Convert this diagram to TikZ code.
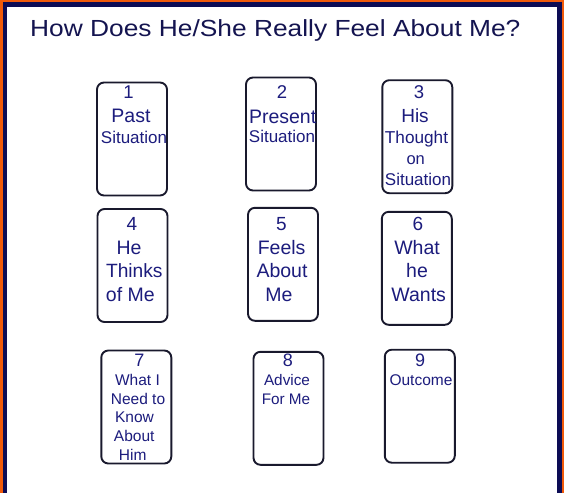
\documentclass[tikz,border=0pt]{standalone}
\usepackage{fontspec}
\setmainfont{Liberation Sans}
\newfontfamily\titlefont[FakeStretch=1.13]{Liberation Sans}
\definecolor{framec}{RGB}{240,90,10}
\definecolor{navyc}{RGB}{12,12,85}
\definecolor{titlec}{RGB}{20,20,80}
\definecolor{textc}{RGB}{28,28,125}
\definecolor{linec}{RGB}{25,25,45}
\newcommand{\fs}[1]{\fontsize{#1}{#1}\selectfont}
\tikzset{
  cardbox/.style={draw=linec, line width=1.9pt, rounded corners=7pt, inner sep=0pt,
    minimum width=70pt, minimum height=113pt},
  lbl/.style={text=textc, anchor=base, inner sep=0pt},
}
\begin{document}
\begin{tikzpicture}[x=1pt,y=-1pt]
\useasboundingbox (0,0) rectangle (564,493);
% frame
\fill[framec] (0,0) rectangle (564,493);
\fill[navyc] (2.6,2.3) rectangle (561.6,493);
\fill[white] (7.3,7) rectangle (556.8,493);
% title
\node[anchor=base west, inner sep=0pt, text=titlec, font=\titlefont\fs{23.3}] (title) at (30,36) {How Does He/She Really Feel About Me?};
% cards
\node[cardbox] (c1) at (132,139) {};
\node[cardbox] (c2) at (281,134) {};
\node[cardbox] (c3) at (417.3,136.7) {};
\node[cardbox] (c4) at (132.5,265.5) {};
\node[cardbox] (c5) at (283,264.3) {};
\node[cardbox] (c6) at (416.8,268.3) {};
\node[cardbox] (c7) at (136.3,407) {};
\node[cardbox] (c8) at (288.5,408.3) {};
\node[cardbox] (c9) at (419.8,406.2) {};
% card 1
\node[lbl, font=\fs{18.5}] (n1) at (128.5,98) {1};
\node[lbl, font=\fs{19.5}] (t1a) at (131,122.3) {Past};
\node[lbl, font=\fs{17}] (t1b) at (134,143.3) {Situation};
% card 2
\node[lbl, font=\fs{18.5}] (n2) at (282,98) {2};
\node[lbl, font=\fs{19.5}] (t2a) at (282.6,123) {Present};
\node[lbl, font=\fs{17}] (t2b) at (282,142.5) {Situation};
% card 3
\node[lbl, font=\fs{18.5}] (n3) at (419,98.3) {3};
\node[lbl, font=\fs{19}] (t3a) at (415,122.3) {His};
\node[lbl, font=\fs{17.2}] (t3b) at (416.5,143.3) {Thought};
\node[lbl, font=\fs{16.5}] (t3c) at (415.7,164) {on};
\node[lbl, font=\fs{17}] (t3d) at (418,185) {Situation};
% card 4
\node[lbl, font=\fs{19}] (n4) at (132,230) {4};
\node[lbl, font=\fs{19.5}] (t4a) at (129,254) {He};
\node[lbl, font=\fs{19.2}] (t4b) at (134.3,277.7) {Thinks};
\node[lbl, font=\fs{19.5}] (t4c) at (130.3,301) {of Me};
% card 5
\node[lbl, font=\fs{19}] (n5) at (281.3,230) {5};
\node[lbl, font=\fs{19.5}] (t5a) at (281.6,254) {Feels};
\node[lbl, font=\fs{19.5}] (t5b) at (282,277.7) {About};
\node[lbl, font=\fs{19.5}] (t5c) at (278.8,301) {Me};
% card 6
\node[lbl, font=\fs{19}] (n6) at (418,230) {6};
\node[lbl, font=\fs{19.5}] (t6a) at (417,254) {What};
\node[lbl, font=\fs{19.5}] (t6b) at (417,277.7) {he};
\node[lbl, font=\fs{19.5}] (t6c) at (418.7,301) {Wants};
% card 7
\node[lbl, font=\fs{18}] (n7) at (139.3,366.7) {7};
\node[lbl, font=\fs{15.5}] (t7a) at (137.5,385) {What I};
\node[lbl, font=\fs{15.5}] (t7b) at (138,404) {Need to};
\node[lbl, font=\fs{15.5}] (t7c) at (134.5,422.7) {Know};
\node[lbl, font=\fs{15.5}] (t7d) at (134.2,441.7) {About};
\node[lbl, font=\fs{15.5}] (t7e) at (132.7,460) {Him};
% card 8
\node[lbl, font=\fs{18}] (n8) at (287.8,366.7) {8};
\node[lbl, font=\fs{15.3}] (t8a) at (287,385) {Advice};
\node[lbl, font=\fs{15.3}] (t8b) at (286,404) {For Me};
% card 9
\node[lbl, font=\fs{18}] (n9) at (420,366.7) {9};
\node[lbl, font=\fs{15.5}] (t9a) at (421,385) {Outcome};
\end{tikzpicture}
\end{document}
